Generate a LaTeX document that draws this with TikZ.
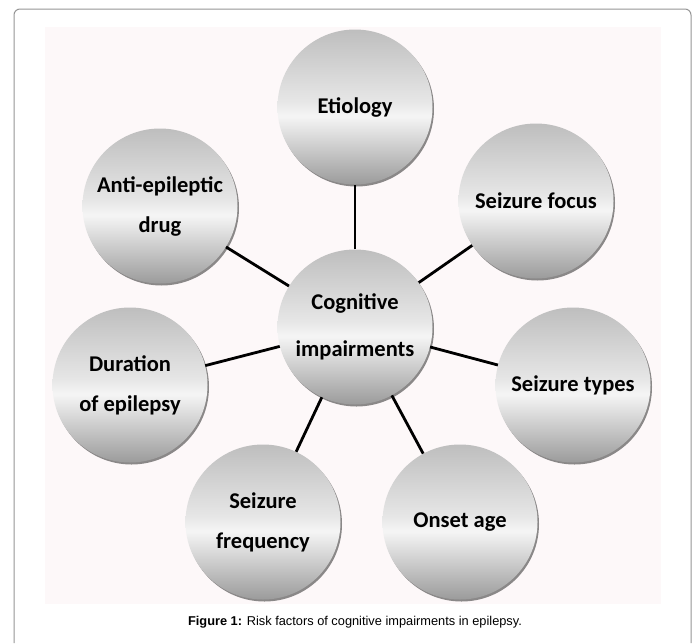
\documentclass[tikz,border=0pt]{standalone}
\usepackage{fontspec}
\setmainfont{Carlito}
\newfontfamily\capfont{Liberation Sans}
\usepackage{tikz}
\usetikzlibrary{shadows}

\definecolor{bgpink}{RGB}{253,248,249}
\definecolor{framegray}{RGB}{150,150,150}
\definecolor{shbot}{RGB}{155,155,155}
\definecolor{shlow}{RGB}{200,200,200}
\definecolor{shband}{RGB}{245,245,245}
\definecolor{shmid}{RGB}{230,230,230}
\definecolor{shtop}{RGB}{190,190,190}
\pgfdeclareverticalshading{ballshade}{100bp}{color(0bp)=(shbot); color(25bp)=(shbot);
  color(36bp)=(shlow); color(47bp)=(shband); color(52bp)=(shmid); color(75bp)=(shtop); color(100bp)=(shtop)}

\begin{document}
\begin{tikzpicture}[x=1pt,y=-1pt]
    \useasboundingbox (0,0) rectangle (696,643);
    \fill[white] (0,0) rectangle (696,643);
    \draw[framegray, line width=1pt, rounded corners=6pt] (14,643) -- (14,9) -- (691,9) -- (691,643);
    \fill[bgpink] (45,27) rectangle (661,604);

    \tikzstyle{fnode} = [circle, minimum size=155pt, inner sep=0pt, shading=ballshade, align=center,
      drop shadow={shadow xshift=1.5pt, shadow yshift=-2pt, fill=black, opacity=0.45},
      font=\fontsize{22.5}{40}\selectfont\bfseries]
    \tikzstyle{lnk} = [line width=2.8pt, black]

    \node[fnode, font=\fontsize{22.5}{47}\selectfont\bfseries] (ci) at (355,327) {Cognitive\\impairments};

    \node[fnode] (fa) at (355,107) {Etiology};
    \node[fnode] (fb) at (536,201) {Seizure focus};
    \node[fnode] (fc) at (573,385) {Seizure types};
    \node[fnode] (fd) at (460,522) {Onset age};
    \node[fnode] (fe) at (263,522) {Seizure\\frequency};
    \node[fnode] (ff) at (130,385) {Duration\\of epilepsy};
    \node[fnode] (fg) at (160,206) {Anti-epileptic\\drug};

    \draw[lnk] (ci) -- (fa);
    \draw[lnk] (ci) -- (fb);
    \draw[lnk] (ci) -- (fc);
    \draw[lnk] (ci) -- (fd);
    \draw[lnk] (ci) -- (fe);
    \draw[lnk] (ci) -- (ff);
    \draw[lnk] (ci) -- (fg);

    \node[font=\capfont\fontsize{12.8}{16}\selectfont] (cap) at (355,622)
      {\textbf{Figure 1:} Risk factors of cognitive impairments in epilepsy.};
\end{tikzpicture}
\end{document}
